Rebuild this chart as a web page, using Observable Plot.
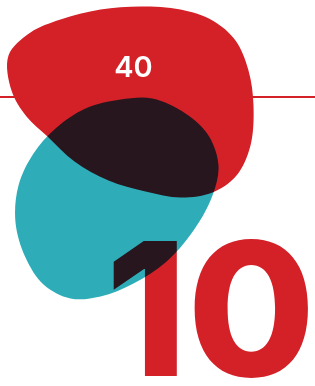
<!DOCTYPE html>
<html>
<head>
<meta charset="utf-8">
<script src="https://cdn.jsdelivr.net/npm/d3@7"></script>
<script src="https://cdn.jsdelivr.net/npm/@observablehq/plot@0.6"></script>
<style>
  html, body { margin: 0; padding: 0; background: #fff; }
  svg { display: block; }
</style>
</head>
<body>
<div id="chart"></div>
<script>
// Values shown in the graphic
const bigValue = "40";
const smallValue = "10";

// Blob outlines (control points)
const redBlob = [[8,55],[30,32],[60,19],[100,9],[140,6],[180,9],[212,20],[235,40],[248,70],[253,105],[250,145],[236,175],[212,192],[180,197],[145,191],[108,180],[74,161],[47,136],[26,116],[11,90]];
const tealBlob = [[152,98],[185,113],[208,135],[218,165],[212,195],[193,230],[165,262],[133,283],[100,296],[70,298],[43,284],[25,257],[15,222],[18,185],[33,153],[55,128],[85,108],[120,99]];
const ruleY = [96.5];
const labelBig = [{x: 133, y: 67.5, text: bigValue}];
const labelSmall = [{x: 315, y: 375, text: smallValue}];

const RED = "#D42027";
const TEAL = "#2EADB9";

const chart = Plot.plot({
  width: 315,
  height: 386,
  margin: 0,
  x: {domain: [0, 315], range: [0, 315], axis: null},
  y: {domain: [0, 386], range: [0, 386], axis: null},
  marks: [
    Plot.ruleY(ruleY, {stroke: RED, strokeWidth: 2}),
    Plot.line(redBlob, {x: d => d[0], y: d => d[1], curve: "catmull-rom-closed", fill: RED, stroke: "none"}),
    Plot.line(tealBlob, {x: d => d[0], y: d => d[1], curve: "catmull-rom-closed", fill: TEAL, stroke: "none", mixBlendMode: "multiply"}),
    Plot.text(labelSmall, {x: "x", y: "y", text: "text", fill: RED, fontSize: 186, fontWeight: 800, fontFamily: "Inter", textAnchor: "end", lineAnchor: "bottom", mixBlendMode: "multiply", style: {letterSpacing: "3px"}}),
    Plot.text(labelBig, {x: "x", y: "y", text: "text", fill: "white", fontSize: 29, fontWeight: 600, fontFamily: "Inter", textAnchor: "middle", lineAnchor: "middle"})
  ]
});
document.getElementById("chart").appendChild(chart);
// widen the big number's glyphs to match the geometric typeface of the original
d3.select(chart).selectAll("text").filter(function(){ return this.textContent === smallValue; })
  .attr("textLength", 210).attr("lengthAdjust", "spacingAndGlyphs");
</script>
</body>
</html>
